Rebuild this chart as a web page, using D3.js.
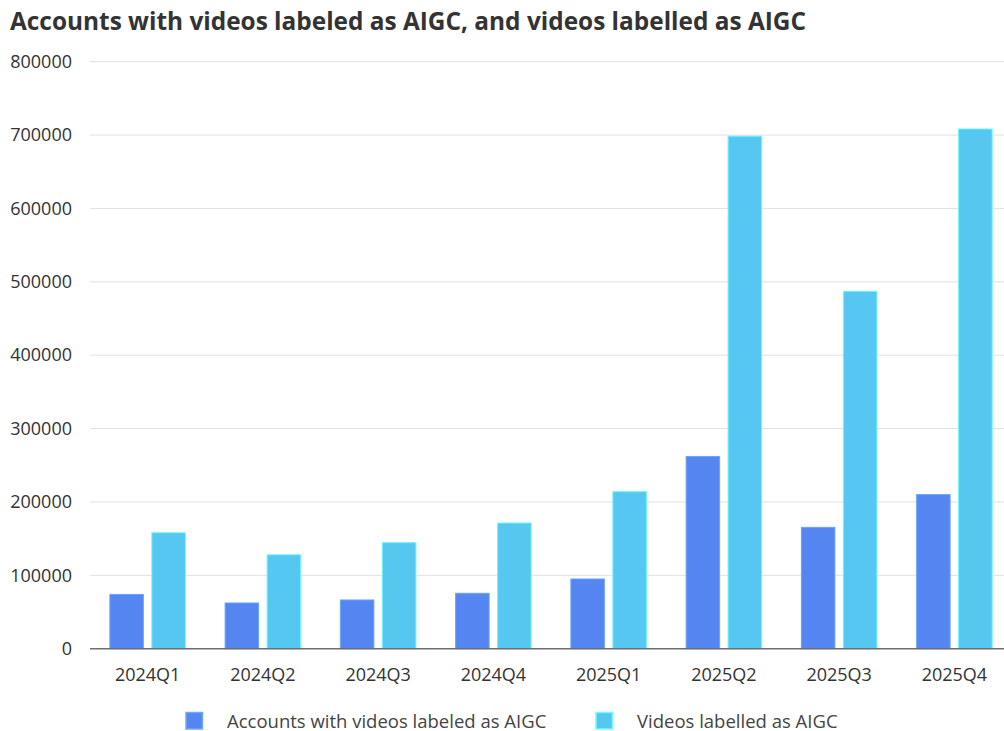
<!DOCTYPE html>
<html>
<head>
<meta charset="utf-8">
<script src="https://cdn.jsdelivr.net/npm/d3@7"></script>
<style>
  html, body { margin: 0; padding: 0; background: #fff; overflow: hidden; }
  svg { display: block; font-family: "Open Sans", "Noto Sans", sans-serif; }
</style>
</head>
<body>
<svg id="chart" width="1004" height="731"></svg>
<script>
// Quarterly AIGC labelling figures
const quarters = ["2024Q1", "2024Q2", "2024Q3", "2024Q4", "2025Q1", "2025Q2", "2025Q3", "2025Q4"];
const accountsLabeled = [74000, 62300, 66400, 75500, 95000, 262000, 165400, 210000];
const videosLabeled = [158000, 128000, 144500, 171300, 214000, 698500, 487000, 708300];
const seriesNames = ["Accounts with videos labeled as AIGC", "Videos labelled as AIGC"];
const seriesColors = ["#5485F0", "#56C7F0"];
const yTicks = [0, 100000, 200000, 300000, 400000, 500000, 600000, 700000, 800000];

const svg = d3.select("#chart");

const plot = { left: 90, right: 1012, top: 61.7, bottom: 648.7 };

const x = d3.scaleBand().domain(quarters).range([plot.left, plot.right]).paddingInner(0).paddingOuter(0);
const y = d3.scaleLinear().domain([0, 800000]).range([plot.bottom, plot.top]);

const barW = 33.5, barGap = 8.5;
const groupW = barW * 2 + barGap;

// Title
svg.append("text")
  .attr("x", 10).attr("y", 29.5)
  .attr("font-size", 24.4).attr("font-weight", 700).attr("fill", "#333")
  .text("Accounts with videos labeled as AIGC, and videos labelled as AIGC");

// Gridlines
svg.append("g").selectAll("line").data(yTicks.filter(d => d > 0)).join("line")
  .attr("x1", plot.left).attr("x2", 1004)
  .attr("y1", d => y(d)).attr("y2", d => y(d))
  .attr("stroke", "#e1e1e6").attr("stroke-width", 1);

// Y axis labels
const yAxis = d3.axisLeft(y).tickValues(yTicks).tickSize(0).tickPadding(0).tickFormat(d3.format("d"));
const gy = svg.append("g").attr("transform", "translate(72,0)").call(yAxis);
gy.select(".domain").remove();
gy.selectAll("text").attr("font-size", 18).attr("fill", "#333").attr("font-family", "'Open Sans', sans-serif");

// Bars
const series = [accountsLabeled, videosLabeled];
series.forEach((vals, si) => {
  svg.append("g").selectAll("rect").data(quarters).join("rect")
    .attr("x", (q) => x(q) + x.bandwidth() / 2 - groupW / 2 + si * (barW + barGap))
    .attr("width", barW)
    .attr("y", (q, i) => y(vals[i]))
    .attr("height", (q, i) => y(0) - y(vals[i]))
    .attr("fill", seriesColors[si])
    .attr("stroke", d3.color(seriesColors[si]).brighter(0.6))
    .attr("stroke-width", 1);
});

// X axis
const xAxis = d3.axisBottom(x).tickSize(0).tickPadding(20);
const gx = svg.append("g").attr("transform", `translate(0,${plot.bottom})`).call(xAxis);
gx.select(".domain").attr("stroke", "#6e6e6e").attr("stroke-width", 1.5)
  .attr("d", `M${plot.left},0H1004`);
gx.selectAll("text").attr("font-size", 18).attr("fill", "#333").attr("font-family", "'Open Sans', sans-serif");

// Legend
const legendItems = [
  { name: seriesNames[0], color: seriesColors[0], sx: 186, tx: 227 },
  { name: seriesNames[1], color: seriesColors[1], sx: 596, tx: 637 }
];
const lg = svg.append("g");
legendItems.forEach(it => {
  lg.append("rect").attr("x", it.sx).attr("y", 712.5).attr("width", 16.5).attr("height", 16.5)
    .attr("fill", it.color).attr("stroke", d3.color(it.color).brighter(0.7)).attr("stroke-width", 1.5);
  lg.append("text").attr("x", it.tx).attr("y", 727.5)
    .attr("font-size", 18.5).attr("fill", "#444").text(it.name);
});
</script>
</body>
</html>
